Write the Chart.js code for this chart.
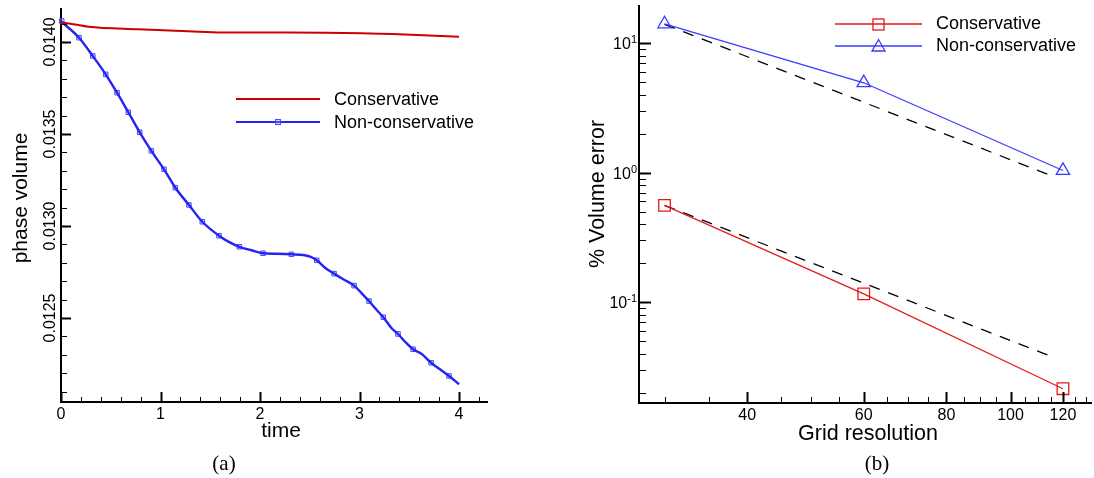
<!DOCTYPE html>
<html><head><meta charset="utf-8">
<script src="https://cdn.jsdelivr.net/npm/chart.js@4/dist/chart.umd.min.js"></script>
<style>
html,body{margin:0;padding:0;background:#fff;width:1094px;height:478px;overflow:hidden;}
#wa{position:absolute;left:0;top:0;width:540px;height:478px;}
#wb{position:absolute;left:540px;top:0;width:554px;height:478px;}
.cap{position:absolute;top:453px;width:60px;text-align:center;font-family:"Liberation Serif","Times New Roman",serif;font-size:21px;line-height:21px;color:#000;}
</style></head><body>
<div id="wa"><canvas id="ca" width="540" height="478"></canvas></div>
<div id="wb"><canvas id="cb" width="554" height="478"></canvas></div>
<div class="cap" style="left:194px">(a)</div>
<div class="cap" style="left:847px">(b)</div>
<script>
// ---------- (a) phase volume vs time ----------
const timeCons = [0, 0.14, 0.274, 0.777, 1.279, 1.615, 2.284, 3.022, 3.457, 4.0];
const volCons  = [0.014107, 0.014095, 0.014083, 0.014069, 0.014058, 0.014051, 0.014051, 0.014047, 0.014040, 0.014028];

const timeNonCons = [0, 0.181, 0.319, 0.449, 0.563, 0.676, 0.791, 0.908, 1.035, 1.149, 1.286, 1.420, 1.588, 1.682, 1.792, 1.916, 2.030, 2.168, 2.315, 2.435, 2.503, 2.570, 2.653, 2.744, 2.837, 2.945, 3.022, 3.095, 3.173, 3.239, 3.323, 3.387, 3.457, 3.538, 3.625, 3.719, 3.809, 3.899, 4.000];
const volNonCons  = [0.014112, 0.014023, 0.013924, 0.013824, 0.013724, 0.013618, 0.013509, 0.013408, 0.013308, 0.013208, 0.013114, 0.013023, 0.012947, 0.012915, 0.012887, 0.012868, 0.012852, 0.012849, 0.012846, 0.012842, 0.012833, 0.012814, 0.012773, 0.012741, 0.012710, 0.012676, 0.012634, 0.012592, 0.012543, 0.012504, 0.012444, 0.012413, 0.012371, 0.012330, 0.012304, 0.012257, 0.012221, 0.012185, 0.012140];

const markTimeNonCons = [0.007, 0.181, 0.319, 0.449, 0.563, 0.676, 0.791, 0.908, 1.035, 1.149, 1.286, 1.420, 1.588, 1.792, 2.030, 2.315, 2.570, 2.744, 2.945, 3.095, 3.239, 3.387, 3.538, 3.719, 3.899];
const markVolNonCons  = [0.014114, 0.014023, 0.013924, 0.013824, 0.013724, 0.013618, 0.013509, 0.013408, 0.013308, 0.013208, 0.013114, 0.013023, 0.012947, 0.012887, 0.012852, 0.012846, 0.012814, 0.012741, 0.012676, 0.012592, 0.012504, 0.012413, 0.012330, 0.012257, 0.012185];

const timeTickLabels = ['0', '1', '2', '3', '4'];
const volTickValues  = [0.0125, 0.0130, 0.0135, 0.0140];
const volTickLabels  = ['0.0125', '0.0130', '0.0135', '0.0140'];

// ---------- (b) % volume error vs grid resolution ----------
const gridRes        = [30, 60, 120];
const errCons        = [0.560, 0.116, 0.0215];
const errNonCons     = [14.1, 4.95, 1.04];
const refUpperX      = [30, 114.6];
const refUpperY      = [14.0, 0.96];
const refLowerX      = [30, 117];
const refLowerY      = [0.56, 0.037];
const resTickValues  = [40, 60, 80, 100, 120];
const errTickExps    = [-1, 0, 1];

const SANS = '"Liberation Sans", Arial, Helvetica, sans-serif';
const RED_A = '#cc0000', BLUE_A = '#2323f2';
const RED_B = '#e31a1a', BLUE_B = '#3b3bff';

function pts(xs, ys) { return xs.map((x, i) => ({x: x, y: ys[i]})); }

function tick(ctx, x1, y1, x2, y2, w) {
  ctx.lineWidth = w; ctx.beginPath(); ctx.moveTo(x1, y1); ctx.lineTo(x2, y2); ctx.stroke();
}

const axesA = {
  id: 'axesA',
  afterDraw(chart) {
    const ctx = chart.ctx, xs = chart.scales.x, ys = chart.scales.y, a = chart.chartArea;
    ctx.save();
    ctx.strokeStyle = '#000'; ctx.fillStyle = '#000'; ctx.lineCap = 'butt';
    for (let i = 0; i <= 21; i++) {
      const v = i * 0.2; if (v > xs.max) break;
      const px = Math.round(xs.getPixelForValue(v)) + 0.5;
      if (i % 5 === 0) tick(ctx, px, a.bottom, px, a.bottom - 10, 2);
      else tick(ctx, px, a.bottom, px, a.bottom - 5, 1);
    }
    for (let k = 120; k <= 142; k++) {
      const v = k * 1e-4; if (v < ys.min || v > ys.max) continue;
      const py = Math.round(ys.getPixelForValue(v)) + 0.5;
      if (k % 5 === 0) tick(ctx, a.left, py, a.left + 10, py, 2);
      else tick(ctx, a.left, py, a.left + 6, py, 1);
    }
    ctx.font = '16px ' + SANS;
    ctx.textAlign = 'center'; ctx.textBaseline = 'alphabetic';
    timeTickLabels.forEach(t => ctx.fillText(t, xs.getPixelForValue(+t), 418.5));
    volTickValues.forEach((v, i) => {
      ctx.save(); ctx.translate(55, ys.getPixelForValue(v)); ctx.rotate(-Math.PI / 2);
      ctx.fillText(volTickLabels[i], 0, 0); ctx.restore();
    });
    ctx.font = '21px ' + SANS;
    ctx.fillText('time', 281, 437);
    ctx.save(); ctx.translate(27, 198); ctx.rotate(-Math.PI / 2);
    ctx.fillText('phase volume', 0, 0); ctx.restore();
    // legend
    ctx.strokeStyle = RED_A; tick(ctx, 236, 99, 320, 99, 2);
    ctx.strokeStyle = BLUE_A; tick(ctx, 236, 122, 320, 122, 2);
    ctx.strokeStyle = '#4a4aff'; ctx.lineWidth = 1; ctx.fillStyle = 'rgba(140,140,255,0.4)';
    ctx.fillRect(275.5, 119.5, 5, 5); ctx.strokeRect(275.5, 119.5, 5, 5);
    ctx.fillStyle = '#000'; ctx.font = '18px ' + SANS; ctx.textAlign = 'left'; ctx.textBaseline = 'middle';
    ctx.fillText('Conservative', 334, 100);
    ctx.fillText('Non-conservative', 334, 123);
    ctx.restore();
  }
};

new Chart(document.getElementById('ca'), {
  type: 'line',
  data: { datasets: [
    { label: 'Conservative', data: pts(timeCons, volCons), borderColor: RED_A, borderWidth: 2, pointRadius: 0, cubicInterpolationMode: 'monotone', clip: false },
    { label: 'Non-conservative', data: pts(timeNonCons, volNonCons), borderColor: BLUE_A, borderWidth: 2.4, pointRadius: 0, cubicInterpolationMode: 'monotone', clip: false },
    { label: 'Non-conservative markers', data: pts(markTimeNonCons, markVolNonCons), showLine: false, pointStyle: 'rect', pointRadius: 3.2, pointBorderWidth: 1, pointBorderColor: '#4a4aff', pointBackgroundColor: 'rgba(140,140,255,0.35)', clip: false }
  ]},
  options: {
    responsive: false, animation: false, events: [],
    layout: { autoPadding: false, padding: { left: 0, top: 9, right: 53, bottom: 0 } },
    plugins: { legend: { display: false }, tooltip: { enabled: false } },
    scales: {
      x: { type: 'linear', min: 0, max: 4.281, ticks: { display: false }, grid: { display: false },
           border: { display: true, color: '#000', width: 2 }, afterFit(s) { s.height = 76; } },
      y: { type: 'linear', min: 0.0120435, max: 0.014179, ticks: { display: false }, grid: { display: false },
           border: { display: true, color: '#000', width: 2 }, afterFit(s) { s.width = 61; } }
    }
  },
  plugins: [axesA]
});

const axesB = {
  id: 'axesB',
  afterDraw(chart) {
    const ctx = chart.ctx, xs = chart.scales.x, ys = chart.scales.y, a = chart.chartArea;
    ctx.save();
    ctx.strokeStyle = '#000'; ctx.fillStyle = '#000';
    for (let v = 30; v <= 130; v += 5) {
      if (v < xs.min || v > xs.max) continue;
      const px = Math.round(xs.getPixelForValue(v)) + 0.5;
      if (resTickValues.includes(v)) tick(ctx, px, a.bottom, px, a.bottom - 11, 2);
      else tick(ctx, px, a.bottom, px, a.bottom - 6, 1);
    }
    for (let e = -2; e <= 1; e++) {
      for (let m = 1; m <= 9; m++) {
        const v = m * Math.pow(10, e); if (v < ys.min || v > ys.max) continue;
        const py = Math.round(ys.getPixelForValue(v)) + 0.5;
        if (m === 1) tick(ctx, a.left, py, a.left + 12, py, 2);
        else tick(ctx, a.left, py, a.left + 7, py, 1);
      }
    }
    ctx.font = '16px ' + SANS; ctx.textAlign = 'center'; ctx.textBaseline = 'alphabetic';
    resTickValues.forEach(v => ctx.fillText(String(v), xs.getPixelForValue(v), 419.5));
    errTickExps.forEach(e => {
      const py = ys.getPixelForValue(Math.pow(10, e));
      ctx.font = '11px ' + SANS; ctx.textAlign = 'right';
      const sup = String(e);
      ctx.fillText(sup, 97, py);
      const w = ctx.measureText(sup).width;
      ctx.font = '16px ' + SANS;
      ctx.fillText('10', 97 - w, py + 6);
    });
    ctx.font = '21.5px ' + SANS; ctx.textAlign = 'center';
    ctx.fillText('Grid resolution', 328, 440);
    ctx.save(); ctx.translate(63.5, 194); ctx.rotate(-Math.PI / 2);
    ctx.fillText('% Volume error', 0, 0); ctx.restore();
    // legend
    ctx.strokeStyle = RED_B; tick(ctx, 295, 24, 382, 24, 1.3);
    ctx.strokeRect(333, 19, 11, 11);
    ctx.strokeStyle = BLUE_B; tick(ctx, 295, 46, 382, 46, 1.3);
    ctx.beginPath(); ctx.moveTo(338.5, 39.5); ctx.lineTo(345, 51); ctx.lineTo(332, 51); ctx.closePath(); ctx.stroke();
    ctx.font = '18px ' + SANS; ctx.textAlign = 'left'; ctx.textBaseline = 'middle';
    ctx.fillText('Conservative', 396, 24);
    ctx.fillText('Non-conservative', 396, 46);
    ctx.restore();
  }
};

new Chart(document.getElementById('cb'), {
  type: 'line',
  data: { datasets: [
    { label: 'Conservative', data: pts(gridRes, errCons), borderColor: RED_B, borderWidth: 1.2, pointStyle: 'rect', pointRadius: 8.2, pointBorderWidth: 1.3, pointBorderColor: RED_B, pointBackgroundColor: 'rgba(0,0,0,0)', clip: false },
    { label: 'Non-conservative', data: pts(gridRes, errNonCons), borderColor: BLUE_B, borderWidth: 1.2, pointStyle: 'triangle', pointRadius: 7.7, pointBorderWidth: 1.3, pointBorderColor: BLUE_B, pointBackgroundColor: 'rgba(0,0,0,0)', clip: false },
    { label: 'ref2a', data: pts(refUpperX, refUpperY), borderColor: '#000', borderWidth: 1.3, borderDash: [11, 9], pointRadius: 0, clip: false },
    { label: 'ref2b', data: pts(refLowerX, refLowerY), borderColor: '#000', borderWidth: 1.3, borderDash: [11, 9], pointRadius: 0, clip: false }
  ]},
  options: {
    responsive: false, animation: false, events: [],
    layout: { autoPadding: false, padding: { left: 0, top: 6, right: 3, bottom: 0 } },
    plugins: { legend: { display: false }, tooltip: { enabled: false } },
    scales: {
      x: { type: 'logarithmic', min: 27.45, max: 132.3, ticks: { display: false }, grid: { display: false },
           border: { display: true, color: '#000', width: 2 }, afterFit(s) { s.height = 75; } },
      y: { type: 'logarithmic', min: 0.01667, max: 19.4, ticks: { display: false }, grid: { display: false },
           border: { display: true, color: '#000', width: 2 }, afterFit(s) { s.width = 99; } }
    }
  },
  plugins: [axesB]
});
</script>
</body></html>
